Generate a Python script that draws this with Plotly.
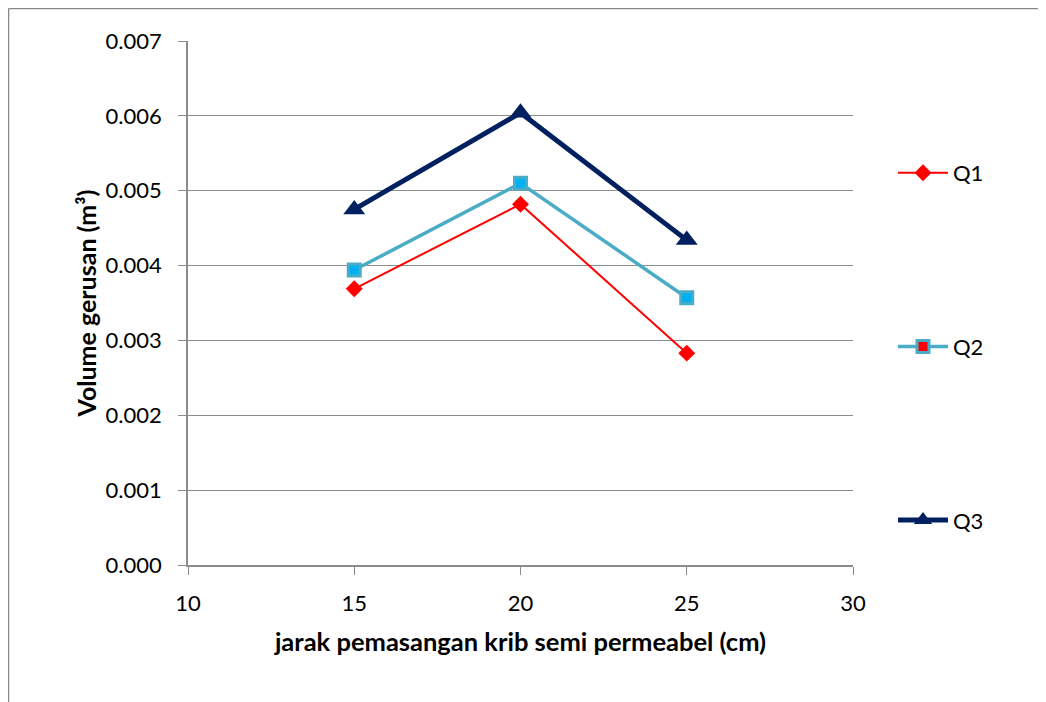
import plotly.graph_objects as go

x_vals = [15, 20, 25]
q1 = [0.00369, 0.00482, 0.00283]
q2 = [0.00394, 0.00510, 0.00357]
q3 = [0.00475, 0.00604, 0.00434]
series_names = ["Q1", "Q2", "Q3"]

OFF = 8  # page body margin
L, T = 188 - OFF, 41 - OFF
pw, ph = 665, 524
W, H = 1046 - OFF, 702 - OFF
R = W - L - pw
B = H - T - ph

def px_x(p):
    return (p - OFF - L) / pw

def px_y(p):
    return (OFF + T + ph - p) / ph

styles = [
    dict(line=dict(color="#FF0000", width=2),
         marker=dict(symbol="diamond", size=13, color="#FF0000", line=dict(width=0))),
    dict(line=dict(color="#4BACC6", width=3.5),
         marker=dict(symbol="square", size=12, color="#00B0F0", line=dict(color="#4BACC6", width=3))),
    dict(line=dict(color="#002060", width=5),
         marker=dict(symbol="triangle-up", size=19, color="#002060", line=dict(width=0))),
]
legend_markers = [
    dict(symbol="diamond", size=13, color="#FF0000", line=dict(width=0)),
    dict(symbol="square", size=12, color="#FF0000", line=dict(color="#4BACC6", width=3)),
    dict(symbol="triangle-up", size=19, color="#002060", line=dict(width=0)),
]

fig = go.Figure()
for name, ys, st in zip(series_names, [q1, q2, q3], styles):
    fig.add_trace(go.Scatter(x=x_vals, y=ys, name=name, mode="lines+markers",
                             showlegend=False, **st))
for i, (name, st, lm) in enumerate(zip(series_names, styles, legend_markers)):
    fig.add_trace(go.Scatter(x=[None], y=[None], name=name, mode="lines+markers",
                             legendgroup="g%d" % i, line=st["line"], marker=lm))

grid = "#8C8C8C"
fig.update_layout(
    width=W, height=H,
    margin=dict(l=L, r=R, t=T, b=B),
    paper_bgcolor="white", plot_bgcolor="white",
    font=dict(family="Lato, Carlito, Calibri, sans-serif", size=22, color="black"),
    showlegend=True,
    legend=dict(x=px_x(893), xanchor="left", y=px_y(152), yanchor="top",
                tracegroupgap=142, font=dict(size=22), bgcolor="rgba(0,0,0,0)",
                itemwidth=50),
    xaxis=dict(range=[10, 30], tickvals=[10, 15, 20, 25, 30], ticks="outside", ticklen=8,
               tickcolor=grid, showline=True, linecolor=grid, linewidth=1.5,
               showgrid=False, zeroline=False, ticklabelstandoff=10,
               title=dict(text="<b>jarak pemasangan krib semi permeabel (cm)</b>",
                          font=dict(size=25.5), standoff=18)),
    yaxis=dict(range=[0, 0.007], tickvals=[0, 0.001, 0.002, 0.003, 0.004, 0.005, 0.006, 0.007],
               tickformat=".3f", ticks="outside", ticklen=8, tickcolor=grid,
               showline=True, linecolor=grid, linewidth=1.5, ticklabelstandoff=12,
               showgrid=True, gridcolor=grid, gridwidth=1.3, zeroline=False,
               title=dict(text="<b>Volume gerusan (m³)</b>", font=dict(size=25), standoff=2)),
)

bx, by = px_x(8.5), px_y(8.5)
fig.add_shape(type="line", xref="paper", yref="paper", x0=bx, x1=bx, y0=px_y(720), y1=by,
              line=dict(color="#868686", width=1.5))
fig.add_shape(type="line", xref="paper", yref="paper", x0=bx, x1=px_x(1060), y0=by, y1=by,
              line=dict(color="#868686", width=1.5))

fig.write_html("out.html")
